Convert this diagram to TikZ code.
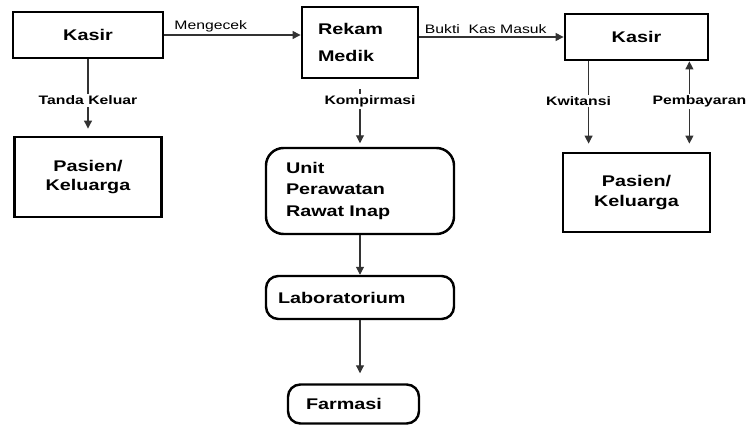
\documentclass[tikz,border=0pt]{standalone}
\usepackage{fontspec}
\setmainfont{Liberation Sans}[FakeStretch=1.28]
\usetikzlibrary{positioning,arrows.meta}

\begin{document}
\begin{tikzpicture}[>={Triangle[length=4.5pt,width=4.5pt]},
    every node/.style={node distance=2cm},
    kotak/.style={draw,line width=1.6pt,align=center,font=\bfseries\fontsize{8.8}{11.3}\selectfont},
    bulat/.style={kotak,rounded corners=7pt,line width=1.4pt,align=left,inner ysep=0pt},
    panah/.style={->,draw=black!80,line width=0.6pt},
    ket/.style={font=\bfseries\fontsize{7}{8}\selectfont,fill=white,inner sep=1pt},
    tipis/.style={font=\fontsize{7}{8}\selectfont,inner sep=1.5pt}]
    \useasboundingbox (0,0) rectangle (15,-8.52);
    \node[kotak,minimum width=3cm,minimum height=0.92cm] (kasir1) at (1.76,-0.70) {Kasir};
    \node[kotak,minimum width=2.94cm,minimum height=1.6cm,below of=kasir1,node distance=2.84cm] (pasien1) {Pasien/\\Keluarga};
    \node[kotak,align=left,text width=1.68cm,inner xsep=0.32cm,minimum height=1.42cm,
      font=\bfseries\fontsize{8.8}{15.9}\selectfont] (rekam) at (7.2,-0.85) {Rekam\\Medik};
    \node[kotak,minimum width=2.86cm,minimum height=0.92cm] (kasir2) at (12.73,-0.74) {Kasir};
    \node[kotak,minimum width=2.94cm,minimum height=1.58cm,below of=kasir2,node distance=3.11cm] (pasien2) {Pasien/\\Keluarga};
    \node[bulat,rounded corners=10pt,text width=2.96cm,inner xsep=0.4cm,minimum height=1.72cm,
      font=\bfseries\fontsize{8.8}{12.2}\selectfont,below of=rekam,node distance=2.97cm] (unit) {Unit\\Perawatan\\Rawat Inap};
    \node[bulat,text width=3.28cm,inner xsep=0.24cm,minimum height=0.86cm,below of=unit,node distance=2.13cm] (lab) {Laboratorium};
    \node[bulat,text width=1.9cm,inner xsep=0.36cm,minimum height=0.78cm,below of=lab,node distance=2.13cm,xshift=-0.13cm] (farmasi) {Farmasi};

    \draw[panah] (kasir1.east) -- node[above,pos=0.34,tipis] {Mengecek} (kasir1.east -| rekam.west);
    \draw[panah] (kasir2.west -| rekam.east) -- node[above,pos=0.46,tipis] {Bukti\ \ Kas Masuk} (kasir2.west);
    \draw[panah,shorten >=4pt] (kasir1.south) -- node[ket,pos=0.54] {Tanda Keluar} (kasir1.south |- pasien1.north);
    \draw[panah,shorten <=0.2cm,shorten >=2pt] (rekam.south) -- node[ket,pos=0.33,xshift=0.2cm] {Kompirmasi} (unit.north);
    \coordinate (kwitansi) at ([xshift=0.5cm]kasir2.south west);
    \coordinate (bayar) at ([xshift=-0.4cm]kasir2.south east);
    \draw[panah,shorten >=0.16cm] (kwitansi) -- node[ket,pos=0.44,xshift=-0.2cm] {Kwitansi} (kwitansi |- pasien2.north);
    \draw[panah,<->,shorten >=0.16cm] (bayar) -- node[ket,pos=0.44,xshift=0.2cm] {Pembayaran} (bayar |- pasien2.north);
    \draw[panah] (unit.south) -- (lab.north);
    \draw[panah,shorten >=0.2cm] (lab.south) -- (lab.south |- farmasi.north);
  \end{tikzpicture}
\end{document}
